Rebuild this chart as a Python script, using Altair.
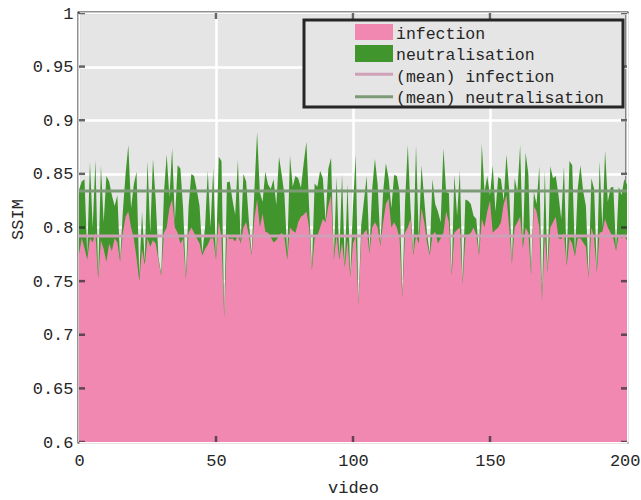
import altair as alt
import pandas as pd

# ---------------- data ----------------
video = list(range(201))

neutralisation = [
    0.835, 0.843, 0.845, 0.775, 0.861, 0.800, 0.863, 0.755, 0.858, 0.805,
    0.848, 0.843, 0.830, 0.820, 0.830, 0.770, 0.815, 0.850, 0.877, 0.818,
    0.840, 0.852, 0.755, 0.815, 0.768, 0.862, 0.795, 0.864, 0.825, 0.772,
    0.757, 0.832, 0.868, 0.828, 0.874, 0.806, 0.858, 0.855, 0.818, 0.755,
    0.820, 0.850, 0.848, 0.835, 0.820, 0.776, 0.800, 0.853, 0.800, 0.855,
    0.772, 0.866, 0.862, 0.718, 0.842, 0.843, 0.826, 0.812, 0.863, 0.786,
    0.850, 0.843, 0.806, 0.776, 0.834, 0.889, 0.833, 0.824, 0.852, 0.840,
    0.836, 0.845, 0.821, 0.866, 0.849, 0.830, 0.775, 0.867, 0.838, 0.848,
    0.846, 0.837, 0.860, 0.880, 0.818, 0.762, 0.841, 0.838, 0.853, 0.846,
    0.806, 0.855, 0.865, 0.771, 0.847, 0.772, 0.850, 0.765, 0.841, 0.756,
    0.820, 0.868, 0.729, 0.802, 0.825, 0.848, 0.778, 0.836, 0.864, 0.840,
    0.785, 0.833, 0.860, 0.846, 0.818, 0.849, 0.848, 0.833, 0.736, 0.824,
    0.877, 0.818, 0.776, 0.877, 0.790, 0.858, 0.826, 0.795, 0.776, 0.845,
    0.822, 0.815, 0.805, 0.874, 0.833, 0.832, 0.757, 0.849, 0.811, 0.853,
    0.749, 0.826, 0.825, 0.822, 0.811, 0.808, 0.776, 0.878, 0.833, 0.848,
    0.830, 0.858, 0.815, 0.847, 0.845, 0.825, 0.868, 0.835, 0.768, 0.846,
    0.833, 0.877, 0.783, 0.870, 0.850, 0.758, 0.833, 0.822, 0.857, 0.734,
    0.853, 0.760, 0.857, 0.846, 0.848, 0.830, 0.808, 0.857, 0.766, 0.862,
    0.858, 0.775, 0.836, 0.858, 0.834, 0.820, 0.755, 0.846, 0.836, 0.760,
    0.862, 0.800, 0.872, 0.824, 0.837, 0.838, 0.780, 0.838, 0.830, 0.845,
    0.840,
]

infection = [
    0.775, 0.790, 0.781, 0.770, 0.790, 0.786, 0.795, 0.752, 0.788, 0.780,
    0.768, 0.785, 0.778, 0.790, 0.786, 0.768, 0.795, 0.810, 0.815, 0.800,
    0.790, 0.772, 0.750, 0.780, 0.765, 0.790, 0.782, 0.788, 0.785, 0.770,
    0.755, 0.795, 0.800, 0.818, 0.826, 0.800, 0.795, 0.785, 0.790, 0.752,
    0.795, 0.800, 0.795, 0.790, 0.785, 0.774, 0.780, 0.784, 0.790, 0.790,
    0.770, 0.806, 0.790, 0.716, 0.792, 0.789, 0.790, 0.787, 0.793, 0.785,
    0.800, 0.805, 0.793, 0.774, 0.808, 0.826, 0.800, 0.813, 0.796, 0.795,
    0.791, 0.786, 0.788, 0.792, 0.795, 0.790, 0.770, 0.800, 0.797, 0.795,
    0.805, 0.810, 0.812, 0.815, 0.800, 0.760, 0.790, 0.792, 0.800, 0.808,
    0.805, 0.820, 0.830, 0.770, 0.793, 0.770, 0.786, 0.763, 0.788, 0.754,
    0.785, 0.792, 0.727, 0.790, 0.795, 0.798, 0.776, 0.800, 0.805, 0.800,
    0.783, 0.805, 0.822, 0.827, 0.800, 0.805, 0.800, 0.790, 0.734, 0.795,
    0.800, 0.808, 0.774, 0.793, 0.785, 0.818, 0.805, 0.786, 0.774, 0.793,
    0.796, 0.785, 0.790, 0.795, 0.815, 0.805, 0.755, 0.795, 0.798, 0.800,
    0.747, 0.790, 0.793, 0.795, 0.800, 0.793, 0.774, 0.808, 0.800, 0.815,
    0.825, 0.795, 0.798, 0.800, 0.805, 0.822, 0.830, 0.800, 0.766, 0.800,
    0.805, 0.810, 0.781, 0.800, 0.795, 0.756, 0.820, 0.815, 0.800, 0.732,
    0.795, 0.758, 0.800, 0.805, 0.810, 0.790, 0.789, 0.795, 0.764, 0.790,
    0.785, 0.773, 0.790, 0.790, 0.786, 0.782, 0.753, 0.800, 0.790, 0.758,
    0.795, 0.796, 0.808, 0.800, 0.795, 0.790, 0.778, 0.793, 0.790, 0.792,
    0.788,
]

mean_infection = 0.792
mean_neutralisation = 0.834

legend_labels = ["infection", "neutralisation", "(mean) infection", "(mean) neutralisation"]
x_ticks = [0, 50, 100, 150, 200]
y_ticks = [0.6, 0.65, 0.7, 0.75, 0.8, 0.85, 0.9, 0.95, 1.0]
x_inner_ticks = [50, 100, 150]

# ---------------- style ----------------
PINK = "#F088B2"
GREEN = "#40962C"
MEAN_PINK = "#CFA0B8"
MEAN_GREEN = "#7C9A76"
DARK = "#262626"
BG = "#E5E5E5"
FONT = "Liberation Mono"

W, H = 548, 429

df = pd.DataFrame({"video": video, "infection": infection, "neutralisation": neutralisation})
means = pd.DataFrame({"series": ["(mean) infection", "(mean) neutralisation"],
                      "value": [mean_infection, mean_neutralisation]})

xs = alt.Scale(domain=[0, 200], nice=False, zero=False)
ys = alt.Scale(domain=[0.6, 1.0], nice=False, zero=False)

xaxis = alt.Axis(values=x_ticks, grid=True, ticks=False, tickSize=0, domain=False,
                 labelPadding=10, labelFlush=False, format="d", title="video",
                 labelAlign={"condition": {"test": "datum.value == 200", "value": "right"}, "value": "center"},
                 labelOffset={"condition": {"test": "datum.value == 200", "value": 13}, "value": 0},
                 titleX=W / 2, titleY=45, titleBaseline="middle", titleAlign="center")
yaxis = alt.Axis(values=y_ticks, grid=True, ticks=False, tickSize=0, domain=False,
                 labelPadding=6, labelFlush=False, format="~g", title="SSIM",
                 titleX=-62, titleY=206, titleBaseline="middle", titleAlign="center")

X = alt.X("video:Q", scale=xs, axis=xaxis)

green = alt.Chart(df).mark_area(color=GREEN, opacity=1, interpolate="linear").encode(
    x=X, y=alt.Y("neutralisation:Q", scale=ys, axis=yaxis), y2=alt.datum(0.6))
pink = alt.Chart(df).mark_area(color=PINK, opacity=1, interpolate="linear").encode(
    x=X, y=alt.Y("infection:Q", scale=ys, axis=yaxis), y2=alt.datum(0.6))

mean_lines = alt.Chart(means).mark_rule(strokeWidth=3).encode(
    y=alt.Y("value:Q", scale=ys, axis=yaxis),
    color=alt.Color("series:N", scale=alt.Scale(domain=legend_labels[2:], range=[MEAN_PINK, MEAN_GREEN]), legend=None),
)

# inward ticks (MATLAB style)
ytd = pd.DataFrame({"y": y_ticks})
xtd = pd.DataFrame({"x": x_inner_ticks})
tick_kw = dict(size=12, thickness=2.5, color=DARK, clip=True)
yt_left = alt.Chart(ytd).mark_tick(orient="horizontal", **tick_kw).encode(
    x=alt.datum(0), y=alt.Y("y:Q", scale=ys, axis=yaxis))
yt_right = alt.Chart(ytd).mark_tick(orient="horizontal", **tick_kw).encode(
    x=alt.datum(200), y=alt.Y("y:Q", scale=ys, axis=yaxis))
xt_bottom = alt.Chart(xtd).mark_tick(orient="vertical", **tick_kw).encode(
    x=alt.X("x:Q", scale=xs, axis=xaxis), y=alt.datum(0.6))
xt_top = alt.Chart(xtd).mark_tick(orient="vertical", **tick_kw).encode(
    x=alt.X("x:Q", scale=xs, axis=xaxis), y=alt.datum(1.0))

# legend box
one = pd.DataFrame({"k": [0]})
leg_box = alt.Chart(one).mark_rect(fill=BG, stroke=DARK, strokeWidth=3).encode(
    x=alt.value(225), x2=alt.value(544), y=alt.value(7), y2=alt.value(94))
leg_layers = [leg_box]
row_text_y = [21, 42, 63.5, 85]
sw_x0, sw_x1 = 276, 314
leg_layers.append(alt.Chart(one).mark_rect(fill=PINK).encode(
    x=alt.value(sw_x0), x2=alt.value(sw_x1), y=alt.value(11), y2=alt.value(27)))
leg_layers.append(alt.Chart(one).mark_rect(fill=GREEN).encode(
    x=alt.value(sw_x0), x2=alt.value(sw_x1), y=alt.value(32), y2=alt.value(49)))
leg_layers.append(alt.Chart(one).mark_rule(stroke=MEAN_PINK, strokeWidth=3).encode(
    x=alt.value(sw_x0), x2=alt.value(sw_x1), y=alt.value(61.3)))
leg_layers.append(alt.Chart(one).mark_rule(stroke=MEAN_GREEN, strokeWidth=3).encode(
    x=alt.value(sw_x0), x2=alt.value(sw_x1), y=alt.value(83.7)))
for lab, ty in zip(legend_labels, row_text_y):
    leg_layers.append(alt.Chart(pd.DataFrame({"label": [lab]})).mark_text(
        align="left", baseline="middle", font=FONT, fontSize=16.5, color=DARK).encode(
        x=alt.value(317), y=alt.value(ty), text="label:N"))

chart = alt.layer(
    green, pink, mean_lines, yt_left, yt_right, xt_bottom, xt_top, *leg_layers
).properties(
    width=W, height=H,
    autosize=alt.AutoSizeParams(type="none"),
    padding={"left": 79, "top": 13, "right": 14, "bottom": 58},
    background="white",
).configure_view(
    fill=BG, stroke=DARK, strokeWidth=3
).configure_axis(
    labelFont=FONT, labelFontSize=17, labelColor=DARK,
    titleFont=FONT, titleFontSize=17, titleFontWeight="normal", titleColor=DARK,
    gridColor="white", gridWidth=2.5, gridOpacity=1,
)

chart.save("out.html", embed_options={"renderer": "svg", "actions": False})
